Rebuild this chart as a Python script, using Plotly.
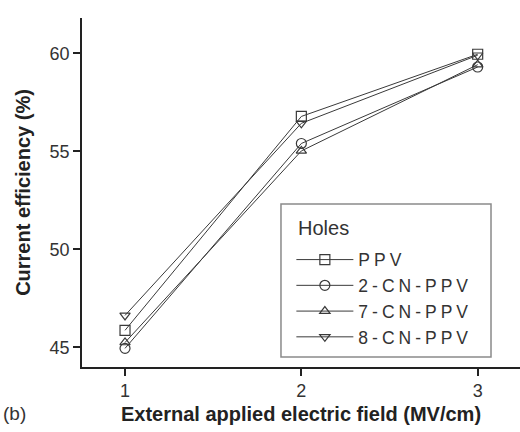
import plotly.graph_objects as go

# Applied field (MV/cm) and current efficiency (%) for each polymer
field = [1, 2, 3]
series_names = ["PPV", "2-CN-PPV", "7-CN-PPV", "8-CN-PPV"]
ppv = [45.87, 56.78, 59.95]
cn2_ppv = [44.95, 55.40, 59.30]
cn7_ppv = [45.25, 55.02, 59.42]
cn8_ppv = [46.63, 56.43, 59.90]
y_ticks = [45, 50, 55, 60]
x_ticks = [1, 2, 3]
legend_heading = "Holes"

values = [ppv, cn2_ppv, cn7_ppv, cn8_ppv]
symbols = ["square-open", "circle-open", "triangle-up-open", "triangle-down-open"]
marker_sizes = [10, 10, 9, 9]

ink = "#333333"

fig = go.Figure()
for name, ys, sym, ms in zip(series_names, values, symbols, marker_sizes):
    fig.add_trace(go.Scatter(
        x=field, y=ys, mode="lines+markers",
        name=f'<span style="letter-spacing:4px">{name}</span>',
        line=dict(color="#3a3a3a", width=1),
        marker=dict(symbol=sym, size=ms, color="#3a3a3a",
                    line=dict(color="#3a3a3a", width=1.2)),
    ))

fig.update_layout(
    width=520, height=432,
    margin=dict(l=82, r=0, t=18, b=65),
    plot_bgcolor="white", paper_bgcolor="white",
    font=dict(family="Liberation Sans, Arial, sans-serif", size=18, color=ink),
    showlegend=True,
    legend=dict(
        x=0.478, y=0.359, xanchor="left", yanchor="top",
        borderwidth=0, bgcolor="rgba(0,0,0,0)",
        font=dict(size=17.5, color=ink),
        itemwidth=57, tracegroupgap=0,
    ),
    xaxis=dict(
        range=[0.756, 3.24], tickvals=x_ticks, ticks="outside", ticklen=7,
        tickwidth=1.5, tickcolor="#222222", showline=True, linecolor="#222222",
        linewidth=1.5, showgrid=False, zeroline=False,
        tickfont=dict(size=18, color=ink),
        title=dict(text="<b>External applied electric field (MV/cm)</b>",
                   font=dict(size=20, color="#222222"), standoff=7),
    ),
    yaxis=dict(
        range=[44.0, 61.8], tickvals=y_ticks, ticks="outside", ticklen=7,
        tickwidth=1.5, tickcolor="#222222", showline=True, linecolor="#222222",
        linewidth=1.5, showgrid=False, zeroline=False,
        tickfont=dict(size=18, color=ink),
        title=dict(text="<b>Current efficiency (%)</b>",
                   font=dict(size=20, color="#222222"), standoff=14),
    ),
)

# Legend frame and heading
fig.add_shape(
    type="rect", xref="paper", yref="paper",
    x0=0.4543, x1=0.9338, y0=0.0287, y1=0.467,
    line=dict(color="#8a8a8a", width=1.5), fillcolor="white", layer="below",
)
fig.add_annotation(
    text=legend_heading, xref="paper", yref="paper", x=0.488, y=0.398,
    xanchor="left", yanchor="middle", showarrow=False,
    font=dict(size=20, color=ink),
)

fig.add_annotation(
    text="(b)", xref="paper", yref="paper", x=-0.185, y=-0.132,
    xanchor="left", yanchor="middle", showarrow=False,
    font=dict(size=19, color=ink),
)

fig.write_html("out.html")
